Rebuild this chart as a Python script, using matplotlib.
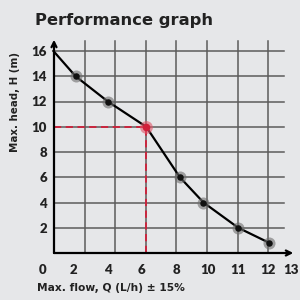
import numpy as np
import matplotlib
matplotlib.use("Agg")
import matplotlib.pyplot as plt

# data
flow = [0.7, 2.1, 4.0, 6.25, 8.2, 9.7, 11.0, 12.05]
head = [16, 14, 12, 10, 6, 4, 2, 0.8]
duty_index = 3  # the highlighted (red) operating point

x_tick_labels = [0, 2, 4, 6, 8, 10, 11, 12, 13]
y_tick_labels = [2, 4, 6, 8, 10, 12, 14, 16]

# the printed x scale is not linear: label -> drawing position (grid units)
x_label_pos = [-0.38, 0.65, 1.76, 2.87, 4.01, 5.04, 6.02, 7.0, 7.74]
n_vgrid = 7

BG = "#e6e7e9"
GRID = "#5c5c5c"
RED = "#d11f3a"
TEXT = "#222222"

plt.rcParams["font.family"] = ["DejaVu Sans"]
plt.rcParams["font.weight"] = "bold"


def to_pos(f):
    return np.interp(f, x_tick_labels, x_label_pos)


fig = plt.figure(figsize=(3, 3), dpi=100, facecolor=BG)
ax = fig.add_axes([54 / 300, 47 / 300, 242 / 300, 212 / 300])
ax.set_facecolor(BG)
ax.set_xlim(0, 242 / 30.6)
ax.set_ylim(0, 212 / 12.625)
for s in ax.spines.values():
    s.set_visible(False)

# grid
x_end = 7.5
for y in y_tick_labels:
    ax.plot([0, x_end], [y, y], color=GRID, lw=1.1, zorder=1, clip_on=False)
for i in range(1, n_vgrid + 1):
    ax.plot([i, i], [0, ax.get_ylim()[1]], color=GRID, lw=1.1, zorder=1, clip_on=False)

# axes with arrow heads
ax.annotate("", xy=(0, ax.get_ylim()[1] + 0.1), xytext=(0, 0),
            arrowprops=dict(arrowstyle="->", lw=1.6, color="black", mutation_scale=9,
                            shrinkA=0, shrinkB=0), annotation_clip=False, zorder=4)
ax.annotate("", xy=(7.82, 0), xytext=(0, 0),
            arrowprops=dict(arrowstyle="->", lw=1.6, color="black", mutation_scale=9,
                            shrinkA=0, shrinkB=0), annotation_clip=False, zorder=4)

# curve
xp = to_pos(flow)
ax.plot(xp, head, color="black", lw=1.6, zorder=5, clip_on=False)

# duty point guide lines
dx, dy = xp[duty_index], head[duty_index]
ax.plot([0, dx], [dy, dy], color=RED, lw=1.3, ls=(0, (4, 2.5)), zorder=3)
ax.plot([dx, dx], [0, dy], color=RED, lw=1.3, ls=(0, (4, 2.5)), zorder=3)

# markers with halo
others = [i for i in range(1, len(flow)) if i != duty_index]
ax.scatter(xp[others], np.array(head)[others], s=75, color="#6e6e6e", alpha=0.6,
           lw=0, zorder=6, clip_on=False)
ax.scatter(xp[others], np.array(head)[others], s=22, color="#111111", lw=0,
           zorder=7, clip_on=False)
ax.scatter([dx], [dy], s=85, color="#e05468", alpha=0.6, lw=0, zorder=6)
ax.scatter([dx], [dy], s=30, color=RED, lw=0, zorder=7)

# ticks
tick_font = dict(family=["Lato", "DejaVu Sans"], size=9.5, weight="heavy")
ax.set_xticks([])
ax.set_yticks(y_tick_labels)
ax.set_yticklabels([str(v) for v in y_tick_labels], color=TEXT, fontdict=tick_font)
ax.tick_params(axis="y", length=0, pad=5)
for lab, pos in zip(x_tick_labels, x_label_pos):
    ax.text(pos, -1.32, str(lab), ha="center", va="center", color=TEXT,
            clip_on=False, fontdict=tick_font)

# labels
fig.text(35 / 300, 1 - 24.5 / 300, "Performance graph", fontsize=11.8,
         fontweight="bold", color=TEXT, ha="left", va="baseline")
fig.text(15 / 300, 1 - 102 / 300, "Max. head, H (m)", rotation=90, fontsize=7.4,
         fontweight="bold", color=TEXT, ha="center", va="center")
fig.text(37 / 300, 1 - 288 / 300, "Max. flow, Q (L/h) \u00b1 15%", fontsize=7.7,
         fontweight="bold", color=TEXT, ha="left", va="center")

fig.savefig("out.png", dpi=100, facecolor=BG)
